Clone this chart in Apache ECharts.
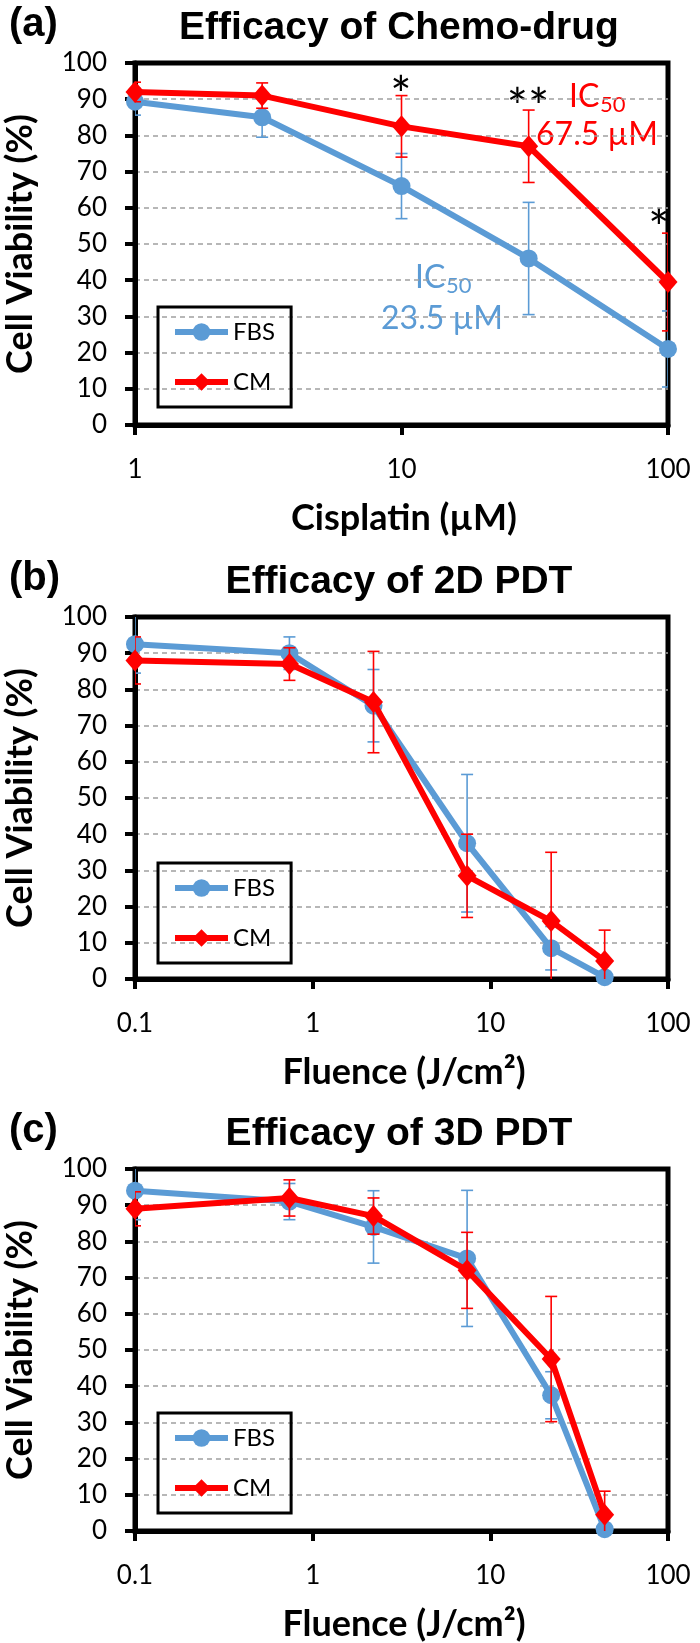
<!DOCTYPE html>
<html><head><meta charset="utf-8">
<script src="https://cdn.jsdelivr.net/npm/echarts@6/dist/echarts.min.js"></script>
<style>html,body{margin:0;padding:0;background:#fff}#c{width:700px;height:1643px}</style>
</head><body><div id="c"></div>
<script>
// ---- data ----
const cisplatinDose = [1, 3, 10, 30, 100];
const chemoFBS    = [89.3, 85, 66, 46, 21];
const chemoFBSErr = [3.7, 5.5, 9, 15.5, 10.5];
const chemoCM     = [92, 91, 82.5, 77, 39.5];
const chemoCMErr  = [2.7, 3.5, 8.5, 10, 13.5];

const fluence = [0.1, 0.74, 2.2, 7.4, 22, 44];
const pdt2dFBS    = [92.5, 90, 75.5, 37.5, 8.5, 0.5];
const pdt2dFBSErr = [8, 4.5, 10, 19, 6, 1];
const pdt2dCM     = [88, 87, 76.5, 28.5, 16, 5];
const pdt2dCMErr  = [6.5, 4.5, 14, 11.5, 19, 8.5];

const pdt3dFBS    = [94, 91, 84, 75.3, 37.5, 0.5];
const pdt3dFBSErr = [8, 5, 10, 18.8, 6.5, 1];
const pdt3dCM     = [89, 92, 87, 72, 47.5, 4.5];
const pdt3dCMErr  = [4.7, 5, 5, 10.5, 17.3, 6.5];

const yTicks = { min: 0, max: 100, interval: 10 };
const panelTitles = ['Efficacy of Chemo-drug', 'Efficacy of 2D PDT', 'Efficacy of 3D PDT'];
const panelLetters = ['(a)', '(b)', '(c)'];
const xTitles = ['Cisplatin (µM)', 'Fluence (J/cm²)', 'Fluence (J/cm²)'];
const yTitle = 'Cell Viability (%)';
const seriesNames = ['FBS', 'CM'];

// ---- styles / layout ----
const BLUE = '#5B9BD5', RED = '#FF0000';
const TICKFONT = 'Lato';
const panels = [
  { top: 63,   xmin: 1,   xmax: 100, x: cisplatinDose, fbs: chemoFBS, fbsE: chemoFBSErr, cm: chemoCM, cmE: chemoCMErr, legTop: 307 },
  { top: 617,  xmin: 0.1, xmax: 100, x: fluence, fbs: pdt2dFBS, fbsE: pdt2dFBSErr, cm: pdt2dCM, cmE: pdt2dCMErr, legTop: 863 },
  { top: 1169, xmin: 0.1, xmax: 100, x: fluence, fbs: pdt3dFBS, fbsE: pdt3dFBSErr, cm: pdt3dCM, cmE: pdt3dCMErr, legTop: 1413 }
];
const GL = 135, GW = 533, GH = 362;

function errRender(color) {
  return function (params, api) {
    const x = api.value(0), y = api.value(1), e = api.value(2);
    const pt = api.coord([x, y + e]);
    const pb = api.coord([x, y - e]);
    const cw = 6;
    const style = { stroke: color, lineWidth: 1.6 };
    return { type: 'group', children: [
      { type: 'line', shape: { x1: pt[0], y1: pt[1], x2: pb[0], y2: pb[1] }, style: style },
      { type: 'line', shape: { x1: pt[0] - cw, y1: pt[1], x2: pt[0] + cw, y2: pt[1] }, style: style },
      { type: 'line', shape: { x1: pb[0] - cw, y1: pb[1], x2: pb[0] + cw, y2: pb[1] }, style: style }
    ]};
  };
}

const grid = [], xAxis = [], yAxis = [], series = [], legend = [], graphic = [];
panels.forEach(function (p, i) {
  grid.push({ left: GL, top: p.top, width: GW, height: GH, show: true, borderColor: '#000', borderWidth: 5, backgroundColor: 'transparent' });
  xAxis.push({
    gridIndex: i, type: 'log', logBase: 10, min: p.xmin, max: p.xmax, interval: 1,
    axisLine: { show: true, lineStyle: { color: '#000', width: 5 } },
    axisTick: { show: true, length: 10, lineStyle: { color: '#000', width: 4 } },
    minorTick: { show: false },
    axisLabel: { fontFamily: TICKFONT, fontSize: 26, color: '#000', margin: 32, formatter: function (v) { return String(+v.toPrecision(6)); } },
    splitLine: { show: false }
  });
  yAxis.push({
    gridIndex: i, type: 'value', min: yTicks.min, max: yTicks.max, interval: yTicks.interval,
    axisLine: { show: true, lineStyle: { color: '#000', width: 5 } },
    axisTick: { show: true, length: 10, lineStyle: { color: '#000', width: 4 } },
    axisLabel: { fontFamily: TICKFONT, fontSize: 26, color: '#000', margin: 28 },
    splitLine: { show: true, showMinLine: false, showMaxLine: false, lineStyle: { color: '#a0a0a0', width: 1.5, type: [5, 4] } }
  });
  const fbsData = p.x.map(function (xv, k) { return [xv, p.fbs[k], p.fbsE[k]]; });
  const cmData = p.x.map(function (xv, k) { return [xv, p.cm[k], p.cmE[k]]; });
  series.push({
    type: 'custom', name: 'errFBS' + i, xAxisIndex: i, yAxisIndex: i, clip: true, z: 2,
    renderItem: errRender(BLUE), data: fbsData, encode: { x: 0, y: 1 }, silent: true
  });
  series.push({
    type: 'line', name: seriesNames[0], xAxisIndex: i, yAxisIndex: i, z: 3,
    data: fbsData.map(function (d) { return [d[0], d[1]]; }),
    symbol: 'circle', symbolSize: 18, color: BLUE,
    lineStyle: { color: BLUE, width: 6 }, itemStyle: { color: BLUE }, animation: false
  });
  series.push({
    type: 'custom', name: 'errCM' + i, xAxisIndex: i, yAxisIndex: i, clip: true, z: 4,
    renderItem: errRender(RED), data: cmData, encode: { x: 0, y: 1 }, silent: true
  });
  series.push({
    type: 'line', name: seriesNames[1], xAxisIndex: i, yAxisIndex: i, z: 5,
    data: cmData.map(function (d) { return [d[0], d[1]]; }),
    symbol: 'diamond', symbolSize: [19, 22], color: RED,
    lineStyle: { color: RED, width: 6 }, itemStyle: { color: RED }, animation: false
  });
  legend.push({
    show: true, data: seriesNames, orient: 'vertical', left: 158, top: p.legTop,
    itemWidth: 53, itemHeight: 22, itemGap: 22, selectedMode: false,
    padding: [11, 16, 11, 14], borderColor: '#000', borderWidth: 3,
    lineStyle: { width: 6 },
    textStyle: { fontFamily: TICKFONT, fontSize: 24, color: '#000', lineHeight: 28 }
  });

  const cy = p.top + GH / 2;
  graphic.push({ type: 'text', left: 9, top: p.top - 58, style: { text: panelLetters[i], font: 'bold 40px "Liberation Sans"', fill: '#000' } });
  graphic.push({ type: 'text', x: 399, y: p.top - 35, style: { text: panelTitles[i], font: 'bold 39px "Liberation Sans"', fill: '#000', align: 'center', verticalAlign: 'middle' } });
  graphic.push({ type: 'text', x: 404, y: p.top + GH + 93, style: { text: xTitles[i], font: 'bold 36px Lato', fill: '#000', align: 'center', verticalAlign: 'middle' } });
  graphic.push({ type: 'text', x: 20, y: cy, rotation: Math.PI / 2, style: { text: yTitle, font: 'bold 36px Lato', fill: '#000', align: 'center', verticalAlign: 'middle' } });
});

// annotations for panel (a)
const annFont = '32px Lato';
const starFont = '50px Lato';
graphic.push({ type: 'text', x: 401, y: 97, style: { text: '*', font: starFont, fill: '#000', align: 'center', verticalAlign: 'middle' } });
graphic.push({ type: 'text', x: 528, y: 109, style: { text: '**', font: starFont, fill: '#000', align: 'center', verticalAlign: 'middle' } });
graphic.push({ type: 'text', x: 659, y: 230, style: { text: '*', font: starFont, fill: '#000', align: 'center', verticalAlign: 'middle' } });
graphic.push({ type: 'text', x: 569, y: 97, style: { text: 'IC', font: annFont, fill: RED, align: 'left', verticalAlign: 'middle' } });
graphic.push({ type: 'text', x: 600, y: 105, style: { text: '50', font: '22px Lato', fill: RED, align: 'left', verticalAlign: 'middle' } });
graphic.push({ type: 'text', x: 597, y: 135, style: { text: '67.5 µM', font: annFont, fill: RED, align: 'center', verticalAlign: 'middle' } });
graphic.push({ type: 'text', x: 415, y: 278, style: { text: 'IC', font: annFont, fill: BLUE, align: 'left', verticalAlign: 'middle' } });
graphic.push({ type: 'text', x: 446, y: 286, style: { text: '50', font: '22px Lato', fill: BLUE, align: 'left', verticalAlign: 'middle' } });
graphic.push({ type: 'text', x: 442, y: 319, style: { text: '23.5 µM', font: annFont, fill: BLUE, align: 'center', verticalAlign: 'middle' } });

const chart = echarts.init(document.getElementById('c'), null, { renderer: 'canvas' });
chart.setOption({
  animation: false,
  backgroundColor: '#fff',
  grid: grid, xAxis: xAxis, yAxis: yAxis, series: series, legend: legend, graphic: graphic
});
</script></body></html>
